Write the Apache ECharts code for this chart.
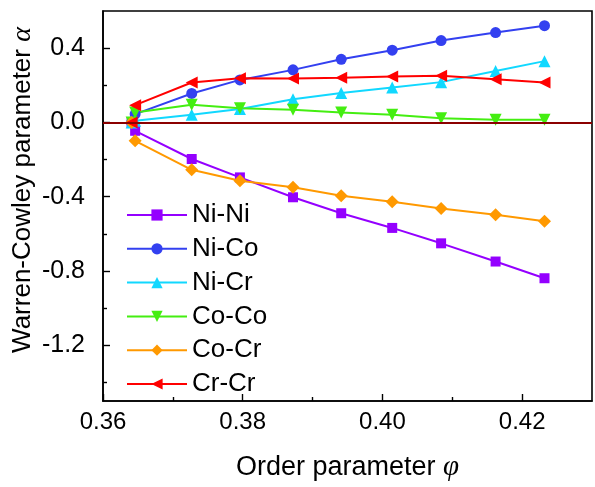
<!DOCTYPE html>
<html>
<head>
<meta charset="utf-8">
<script src="https://cdn.jsdelivr.net/npm/echarts@6/dist/echarts.min.js"></script>
<style>
  html, body { margin: 0; padding: 0; background: #fff; }
  #chart { width: 595px; height: 487px; }
</style>
</head>
<body>
<div id="chart"></div>
<script>
// Order parameter φ at each sampled state
const orderParam = [0.3641, 0.3646, 0.3727, 0.3796, 0.3872, 0.3941, 0.4014, 0.4084, 0.4162, 0.4232];

// Warren-Cowley short-range order parameters per pair
const niNi = [0, -0.045, -0.197, -0.296, -0.403, -0.489, -0.568, -0.651, -0.749, -0.839];
const niCo = [0, 0.045, 0.156, 0.229, 0.283, 0.340, 0.389, 0.441, 0.484, 0.521];
const niCr = [0, 0.009, 0.041, 0.072, 0.125, 0.158, 0.188, 0.217, 0.277, 0.330];
const coCo = [0, 0.054, 0.095, 0.077, 0.068, 0.054, 0.041, 0.023, 0.014, 0.014];
const coCr = [0, -0.099, -0.255, -0.314, -0.349, -0.395, -0.427, -0.463, -0.497, -0.532];
const crCr = [0, 0.093, 0.215, 0.238, 0.237, 0.240, 0.247, 0.251, 0.233, 0.215];

// Axis ticks and labels
const xLabelTicks = [0.36, 0.38, 0.40, 0.42];
const xMinorTicks = [0.37, 0.39, 0.41];
const yLabelTicks = [-1.2, -0.8, -0.4, 0.0, 0.4];
const yMinorTicks = [-1.4, -1.0, -0.6, -0.2, 0.2];

const X_MIN = 0.36, X_MAX = 0.43;
const Y_MIN = -1.5, Y_MAX = 0.6;

const FONT = 'Liberation Sans, Arial, sans-serif';
const SERIF = 'Liberation Serif, Times New Roman, serif';

const pairs = [
  { name: 'Ni-Ni', values: niNi, color: '#9400ff', symbol: 'rect', size: 10, rotate: 0 },
  { name: 'Ni-Co', values: niCo, color: '#3340f0', symbol: 'circle', size: 11, rotate: 0 },
  { name: 'Ni-Cr', values: niCr, color: '#11d8ff', symbol: 'triangle', size: 12, rotate: 0 },
  { name: 'Co-Co', values: coCo, color: '#44ee11', symbol: 'triangle', size: 12, rotate: 180 },
  { name: 'Co-Cr', values: coCr, color: '#ff9900', symbol: 'diamond', size: 13, rotate: 0 },
  { name: 'Cr-Cr', values: crCr, color: '#ff0000', symbol: 'triangle', size: 12, rotate: 90 }
];

const chart = echarts.init(document.getElementById('chart'), null, { renderer: 'canvas' });

const series = pairs.map(p => ({
  name: p.name,
  type: 'line',
  xAxisIndex: 0,
  yAxisIndex: 0,
  data: orderParam.map((x, k) => [x, p.values[k]]),
  symbol: p.symbol,
  symbolSize: p.size,
  symbolRotate: p.rotate,
  showAllSymbol: true,
  lineStyle: { color: p.color, width: 2 },
  itemStyle: { color: p.color },
  animation: false,
  z: 3
}));

// Reference line at α = 0
series.push({
  type: 'line',
  data: [],
  xAxisIndex: 0,
  yAxisIndex: 0,
  silent: true,
  animation: false,
  markLine: {
    silent: true,
    symbol: 'none',
    label: { show: false },
    lineStyle: { color: '#8b0000', width: 2, type: 'solid' },
    data: [{ yAxis: 0 }]
  },
  z: 4
});

const grid = { left: 103, right: 3, top: 11, bottom: 84 };

const option = {
  backgroundColor: '#fff',
  animation: false,
  grid: Object.assign({ show: true, borderColor: '#000', borderWidth: 1.6, backgroundColor: 'transparent' }, grid),
  legend: {
    left: 121,
    top: 197,
    orient: 'vertical',
    itemWidth: 60,
    itemHeight: 14,
    itemGap: 7.8,
    data: pairs.map(p => p.name),
    textStyle: { fontFamily: FONT, fontSize: 26, lineHeight: 26, color: '#000', padding: [0, 0, 0, 0] }
  },
  xAxis: [
    {
      type: 'value',
      min: X_MIN,
      max: X_MAX,
      name: 'Order parameter {i|φ}',
      nameLocation: 'middle',
      nameGap: 52,
      nameTextStyle: {
        fontFamily: FONT, fontSize: 27, color: '#000',
        rich: { i: { fontFamily: SERIF, fontStyle: 'italic', fontSize: 29, color: '#000' } }
      },
      splitLine: { show: false },
      axisLine: { onZero: false, lineStyle: { color: '#000', width: 1.6 } },
      axisTick: { inside: true, length: 7, lineStyle: { color: '#000', width: 1.4 }, customValues: xLabelTicks },
      axisLabel: {
        customValues: xLabelTicks,
        margin: 9,
        fontFamily: FONT, fontSize: 24, color: '#000',
        formatter: v => v.toFixed(2)
      }
    },
    {
      type: 'value',
      min: X_MIN,
      max: X_MAX,
      position: 'bottom',
      splitLine: { show: false },
      axisLine: { show: false, onZero: false },
      axisTick: { inside: true, length: 4, lineStyle: { color: '#000', width: 1.4 }, customValues: xMinorTicks },
      axisLabel: { show: false }
    }
  ],
  yAxis: [
    {
      type: 'value',
      min: Y_MIN,
      max: Y_MAX,
      splitLine: { show: false },
      axisLine: { onZero: false, lineStyle: { color: '#000', width: 1.6 } },
      axisTick: { inside: true, length: 7, lineStyle: { color: '#000', width: 1.4 }, customValues: yLabelTicks },
      axisLabel: {
        customValues: yLabelTicks,
        margin: 18,
        fontFamily: FONT, fontSize: 25, color: '#000',
        formatter: v => v.toFixed(1)
      }
    },
    {
      type: 'value',
      min: Y_MIN,
      max: Y_MAX,
      position: 'left',
      splitLine: { show: false },
      axisLine: { show: false, onZero: false },
      axisTick: { inside: true, length: 4, lineStyle: { color: '#000', width: 1.4 }, customValues: yMinorTicks },
      axisLabel: { show: false }
    }
  ],
  graphic: [
    {
      type: 'text',
      x: 23,
      y: 190,
      rotation: Math.PI / 2,
      style: {
        text: 'Warren-Cowley parameter {a|α}',
        fontFamily: FONT,
        fontSize: 26,
        fill: '#000',
        align: 'center',
        verticalAlign: 'middle',
        rich: { a: { fontFamily: SERIF, fontStyle: 'italic', fontSize: 28, fill: '#000' } }
      }
    }
  ],
  series: series
};

chart.setOption(option);
</script>
</body>
</html>
